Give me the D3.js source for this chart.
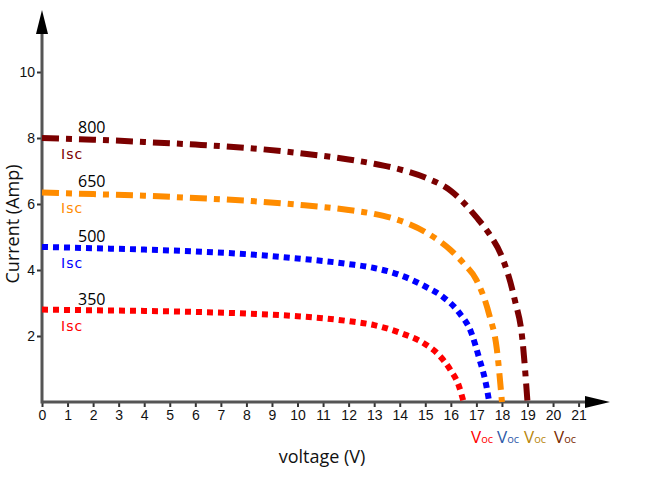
<!DOCTYPE html>
<html>
<head>
<meta charset="utf-8">
<script src="https://cdn.jsdelivr.net/npm/d3@7"></script>
<style>
  body { margin: 0; background: #fff; }
  svg { display: block; }
</style>
</head>
<body>
<div id="chart"></div>
<script>
// irradiance levels and their I-V curves (voltage in V, current in A)
const levels = ["800", "650", "500", "350"];
const colors = ["#7b0000", "#ff8c00", "#0000ff", "#ff0000"];
const vocColors = ["#ff0000", "#2e5aa8", "#b8860b", "#7a2a00"];

const volt800 = [0, 2, 4, 6, 8, 10, 12, 13, 14, 15, 16, 17, 17.5, 18, 18.5, 18.8, 19];
const amp800 = [8.0, 7.95, 7.88, 7.8, 7.7, 7.55, 7.35, 7.22, 7.05, 6.8, 6.4, 5.6, 5.1, 4.4, 3.1, 1.9, 0];

const volt650 = [0, 2, 4, 6, 8, 10, 12, 13, 14, 15, 16, 16.5, 17, 17.5, 17.8, 18];
const amp650 = [6.35, 6.3, 6.25, 6.18, 6.1, 5.98, 5.82, 5.7, 5.5, 5.15, 4.6, 4.2, 3.7, 2.65, 1.6, 0];

const volt500 = [0, 2, 4, 6, 8, 10, 12, 13, 14, 15, 15.7, 16.3, 16.8, 17.1, 17.4, 17.5];
const amp500 = [4.7, 4.66, 4.62, 4.56, 4.48, 4.35, 4.18, 4.06, 3.85, 3.5, 3.18, 2.73, 2.1, 1.35, 0.45, 0];

const volt350 = [0, 2, 4, 6, 8, 10, 12, 13, 14, 15, 15.5, 16, 16.3, 16.5];
const amp350 = [2.8, 2.78, 2.76, 2.73, 2.68, 2.6, 2.45, 2.33, 2.1, 1.75, 1.45, 0.95, 0.52, 0];

const xTicks = d3.range(0, 22);
const yTicks = [2, 4, 6, 8, 10];

const series = [
    {name: levels[0], v: volt800, i: amp800, dash: "17 7 6 7"},
    {name: levels[1], v: volt650, i: amp650, dash: "17 7 6 7"},
    {name: levels[2], v: volt500, i: amp500, dash: "6 5"},
    {name: levels[3], v: volt350, i: amp350, dash: "6 5"}
];

const width = 658, height = 482;

const svg = d3.select("#chart")
    .append("svg")
    .attr("width", width)
    .attr("height", height);

// Scales
const x = d3.scaleLinear().domain([0, 21]).range([42, 578.6]);
const y = d3.scaleLinear().domain([0, 10]).range([402, 72]);

// Axes (ticks + labels)
const xAxis = d3.axisBottom(x).tickValues(xTicks).tickSize(5).tickPadding(3).tickFormat(d3.format("d"));
const yAxis = d3.axisLeft(y).tickValues(yTicks).tickSize(5).tickPadding(2);

const gx = svg.append("g")
    .attr("transform", `translate(0,${y(0)})`)
    .call(xAxis);
const gy = svg.append("g")
    .attr("transform", `translate(${x(0)},0)`)
    .call(yAxis);

[gx, gy].forEach(g => {
    g.select(".domain").remove();
    g.selectAll(".tick line").attr("stroke", "#333").attr("stroke-width", 2);
    g.selectAll(".tick text")
        .attr("fill", "#111")
        .attr("font-family", "Liberation Sans, Arial, sans-serif")
        .attr("font-size", "14px");
});

// Axis lines with arrow heads
svg.append("line")
    .attr("x1", x(0)).attr("x2", 592)
    .attr("y1", y(0)).attr("y2", y(0))
    .attr("stroke", "#555").attr("stroke-width", 3);
svg.append("line")
    .attr("x1", x(0)).attr("x2", x(0))
    .attr("y1", y(0) + 1.5).attr("y2", 28)
    .attr("stroke", "#555").attr("stroke-width", 3);
svg.append("path")
    .attr("d", `M610,${y(0)} L585,${y(0) - 6} L585,${y(0) + 6} Z`)
    .attr("fill", "#000");
svg.append("path")
    .attr("d", `M${x(0)},10 L${x(0) - 6},34 L${x(0) + 6},34 Z`)
    .attr("fill", "#000");

// Curves
const line = d3.line()
    .x(d => x(d[0]))
    .y(d => y(d[1]))
    .curve(d3.curveMonotoneX);

series.forEach((s, k) => {
    svg.append("path")
        .datum(s.v.map((v, j) => [v, s.i[j]]))
        .attr("fill", "none")
        .attr("stroke", colors[k])
        .attr("stroke-width", 6)
        .attr("stroke-dasharray", s.dash)
        .attr("d", line);
});

// Curve labels and Isc markers
series.forEach((s, k) => {
    const i0 = s.i[0];
    svg.append("text")
        .attr("x", 78)
        .attr("y", y(i0) - 5)
        .attr("font-family", "Open Sans, sans-serif")
        .attr("font-size", "16px")
        .attr("fill", "#000")
        .text(s.name);
    svg.append("text")
        .attr("x", 61)
        .attr("y", y(i0) + 21)
        .attr("font-family", "DejaVu Sans, sans-serif")
        .attr("font-size", "14px")
        .attr("letter-spacing", "1px")
        .attr("fill", colors[k])
        .text("Isc");
});

// Voc labels along x axis (order: 350, 500, 650, 800)
const vocX = [471, 497, 524, 554];
vocX.forEach((vx, k) => {
    const t = svg.append("text")
        .attr("x", vx)
        .attr("y", 443)
        .attr("font-family", "Open Sans, sans-serif")
        .attr("font-size", "17px")
        .attr("fill", vocColors[k]);
    t.append("tspan").text("V");
    t.append("tspan").attr("font-size", "11px").text("oc");
});

// Axis titles
svg.append("text")
    .attr("x", 322)
    .attr("y", 463)
    .attr("text-anchor", "middle")
    .attr("font-family", "Open Sans, sans-serif")
    .attr("font-size", "18px")
    .attr("fill", "#111")
    .text("voltage (V)");
svg.append("text")
    .attr("transform", "translate(19,224) rotate(-90)")
    .attr("text-anchor", "middle")
    .attr("font-family", "Open Sans, sans-serif")
    .attr("font-size", "18px")
    .attr("fill", "#111")
    .text("Current (Amp)");
</script>
</body>
</html>
